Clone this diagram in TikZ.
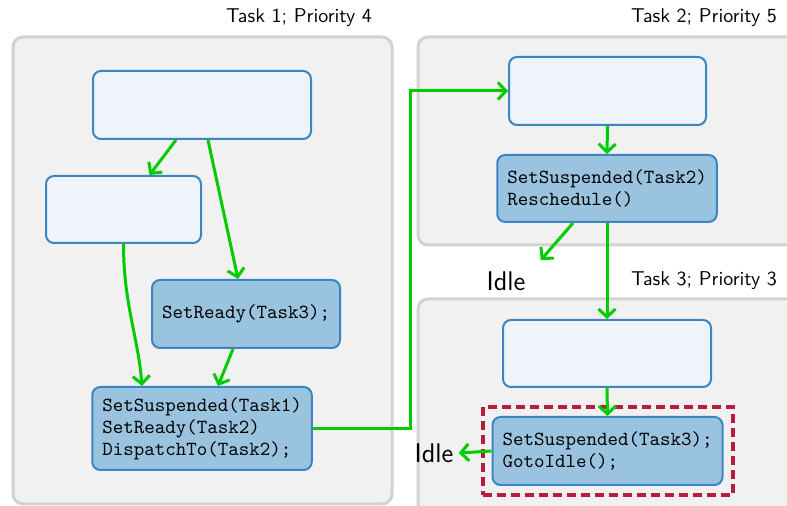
\documentclass[tikz,border=0pt]{standalone}
\usepackage{xcolor}
\usetikzlibrary{arrows.meta,fit}

\definecolor{panelfill}{HTML}{F1F1F1}
\definecolor{panelline}{HTML}{D2D2D2}
\definecolor{boxlight}{HTML}{EFF4FB}
\definecolor{boxdark}{HTML}{9AC3DF}
\definecolor{boxline}{HTML}{3B86C2}
\definecolor{flowgreen}{HTML}{00CC00}
\definecolor{hilitered}{HTML}{B71C3C}

\begin{document}
\begin{tikzpicture}[x=0.5pt, y=-0.5pt, >={Straight Barb[length=4pt,width=8.5pt]},
        panel/.style={draw=panelline, line width=1.5pt, fill=panelfill, rounded corners=5pt},
        emptybox/.style={draw=boxline, line width=1pt, fill=boxlight, rounded corners=4pt},
        codebox/.style={emptybox, fill=boxdark, align=left, inner sep=5pt,
            font=\ttfamily\fontsize{10}{11}\selectfont},
        flow/.style={->, draw=flowgreen, line width=1.5pt},
        hilite/.style={draw=hilitered, line width=2pt, dash pattern=on 4.5pt off 2.5pt},
        tasklabel/.style={font=\sffamily, anchor=east},
        idle/.style={font=\sffamily\fontsize{13.5}{16}\selectfont, inner sep=2.5pt}]
        \useasboundingbox (0,0) rectangle (787,506);
        \clip (0,0) rectangle (787,506);

        % Task panels
        \draw[panel] (13,37) rectangle (392,504);
        \draw[panel] (418,37) rectangle (810,245);
        \draw[panel] (418,299) rectangle (810,530);
        \node[tasklabel] (lab1) at (379,18) {Task 1; Priority 4};
        \node[tasklabel] (lab2) at (784,18) {Task 2; Priority 5};
        \node[tasklabel] (lab3) at (784,281) {Task 3; Priority 3};

        % Task 1
        \node[emptybox, minimum width=109pt, minimum height=34pt] (A1) at (202,105) {};
        \node[emptybox, minimum width=77.5pt, minimum height=33.5pt] (B1) at (123.5,209.5) {};
        \node[codebox, minimum width=93pt, minimum height=34pt] (C1) at (246,314) {SetReady(Task3);};
        \node[codebox, minimum width=109pt, minimum height=41.5pt] (D1) at (202,428.5)
            {SetSuspended(Task1)\\SetReady(Task2)\\DispatchTo(Task2);};

        % Task 2
        \node[emptybox, minimum width=98.5pt, minimum height=34pt] (A2) at (607.5,91) {};
        \node[codebox, minimum width=109pt, minimum height=33.5pt] (B2) at (607,188.5)
            {SetSuspended(Task2)\\Reschedule()};

        % Task 3
        \node[emptybox, minimum width=104pt, minimum height=33.5pt] (A3) at (607,353.5) {};
        \node[codebox, minimum width=114.5pt, minimum height=34pt] (B3) at (607.5,451)
            {SetSuspended(Task3);\\GotoIdle();};
        \node[hilite, fit=(B3), inner sep=4.5pt] (mark) {};

        \node[idle] (idleA) at (506,281) {Idle};
        \node[idle] (idleB) at (434,453) {Idle};

        % Control flow
        \draw[flow] ([xshift=-13pt]A1.south) -- ([xshift=13pt]B1.north);
        \draw[flow] ([xshift=3pt]A1.south) -- ([xshift=-4pt]C1.north);
        \draw[flow] (B1.south) .. controls +(0,60) and +(-4,-50) .. ([xshift=-30pt]D1.north);
        \draw[flow] ([xshift=-6.5pt]C1.south) -- ([xshift=8pt]D1.north);
        \coordinate (jog) at (410,0);
        \draw[flow] (D1.east) -- (D1.east -| jog) |- (A2.west);
        \draw[flow] (A2.south) -- (B2.north);
        \draw[flow] ([xshift=-17pt]B2.south) -- ([shift={(5pt,3pt)}]idleA.north east);
        \draw[flow] (B2.south) -- (A3.north);
        \draw[flow] (A3.south) -- (B3.north);
        \draw[flow] (B3.west) -- (idleB.east);
    \end{tikzpicture}
\end{document}
